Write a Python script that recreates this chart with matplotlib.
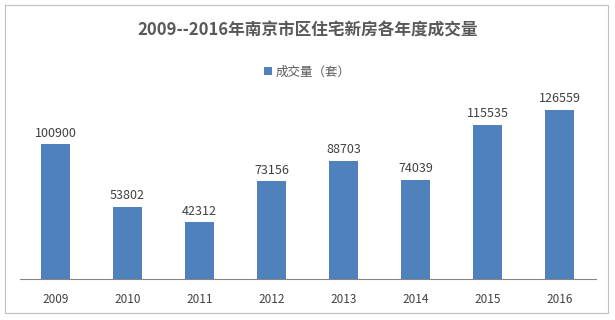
import matplotlib.pyplot as plt
from matplotlib.patches import Rectangle

plt.rcParams['font.family'] = ['Noto Sans CJK SC', 'DejaVu Sans']

years = ['2009', '2010', '2011', '2012', '2013', '2014', '2015', '2016']
volumes = [100900, 53802, 42312, 73156, 88703, 74039, 115535, 126559]

fig = plt.figure(figsize=(6.15, 3.2), dpi=100)
fig.patch.set_facecolor('white')
# outer chart border
fig.patches.append(Rectangle((5 / 615, 7 / 320), 603 / 615, 308 / 320, transform=fig.transFigure,
                             fill=False, edgecolor='#bfbfbf', linewidth=0.8))

ax = fig.add_axes([19.5 / 615, 41 / 320, 576 / 615, 187 / 320])
bars = ax.bar(years, volumes, width=0.4, color='#4f81bd', label='成交量（套）')
ax.set_ylim(0, 140000)
ax.set_xlim(-0.5, len(years) - 0.5)
ax.set_yticks([])
for s in ['left', 'right', 'top']:
    ax.spines[s].set_visible(False)
ax.spines['bottom'].set_color('#868686')
ax.spines['bottom'].set_linewidth(0.8)
ax.tick_params(axis='x', length=0, labelsize=8.5, labelcolor='#404040', pad=10)

for i, v in enumerate(volumes):
    ax.text(i, v + 3500, str(v), ha='center', va='bottom', fontsize=9, color='#404040')

fig.text(0.5, 1 - 30 / 320, '2009--2016年南京市区住宅新房各年度成交量', ha='center', va='center',
         fontsize=12, fontweight='bold', color='#595959')
fig.legend(loc='center', bbox_to_anchor=(0.5, 1 - 72 / 320), frameon=False, fontsize=9,
           handlelength=0.6, handleheight=0.6, handletextpad=0.3, labelcolor='#595959')

fig.savefig('out.png', dpi=100)
